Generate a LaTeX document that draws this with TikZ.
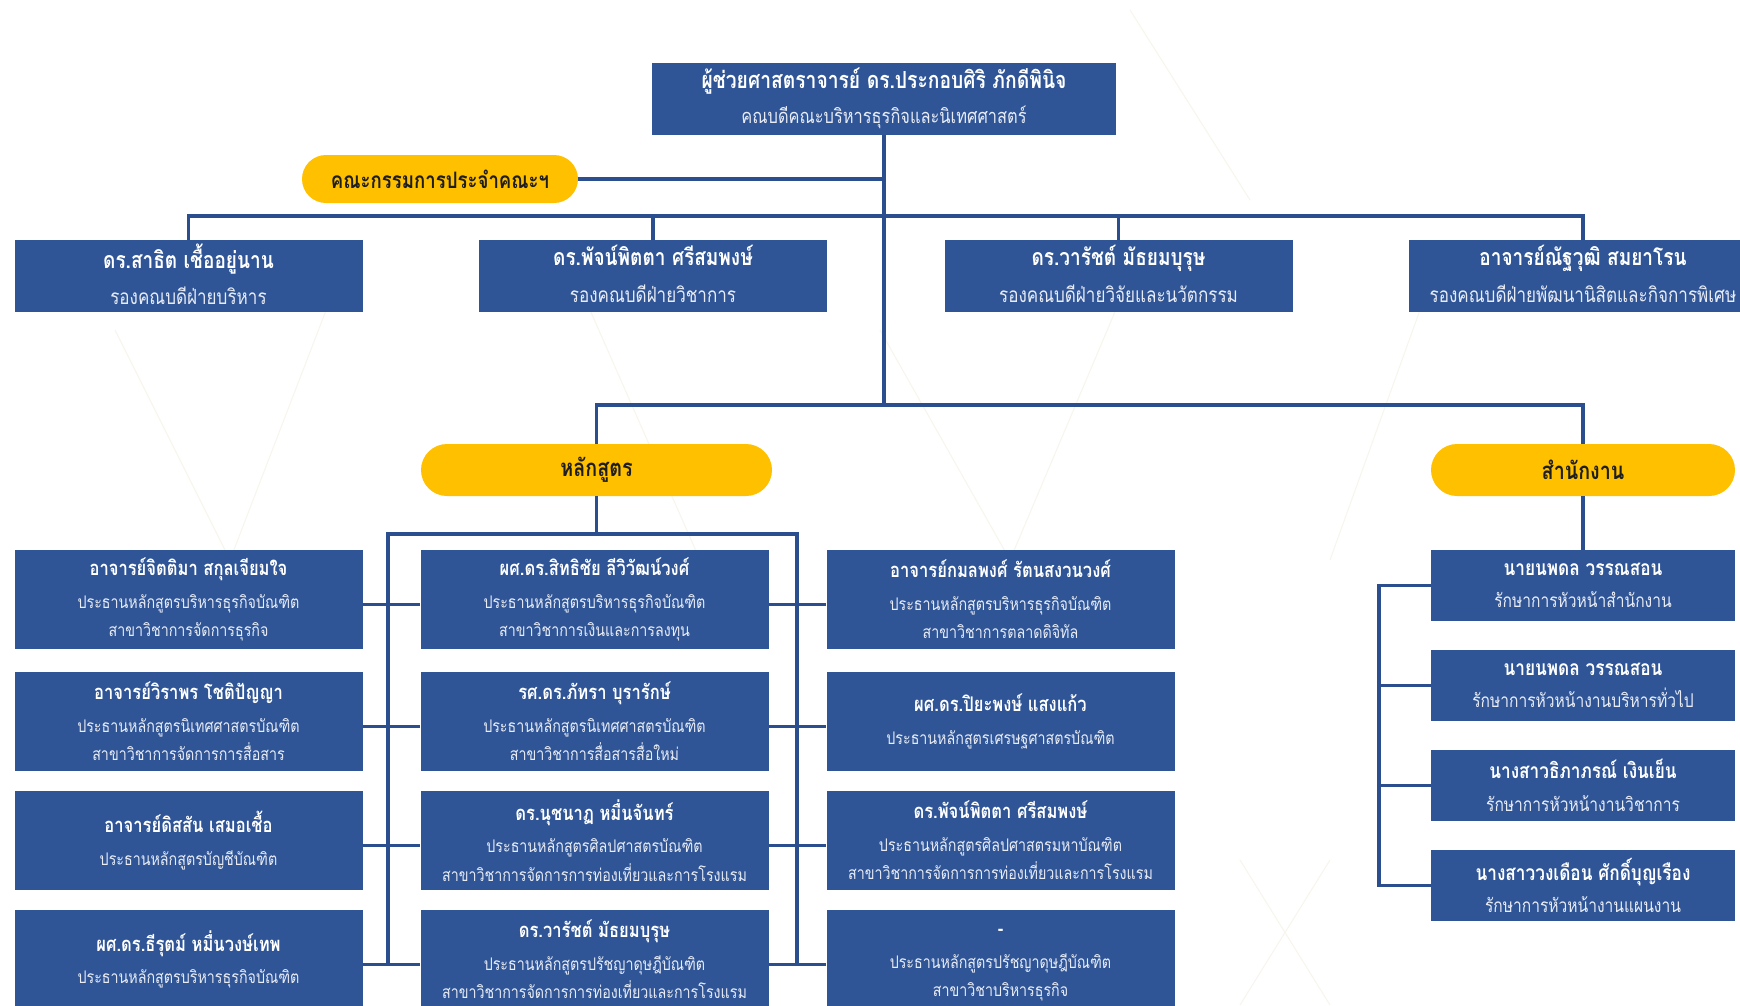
\documentclass[tikz,border=0pt]{standalone}
\usepackage{fontspec}
\newfontfamily\thaifont[Script=Thai,FakeStretch=0.82]{Loma}
\definecolor{boxblue}{HTML}{2F5597}
\definecolor{lineblue}{HTML}{2B4F8E}
\definecolor{pillyellow}{HTML}{FFC000}
\definecolor{pilltext}{HTML}{1E1E1E}
\definecolor{subwhite}{HTML}{E8ECF5}
\definecolor{faint}{HTML}{F8F5EC}
\newcommand{\gnm}[1]{{\bfseries\fontsize{20.2}{28.5}\selectfont #1}}
\newcommand{\vnm}[1]{{\bfseries\fontsize{23.2}{28.5}\selectfont #1}}
\newcommand{\dnm}[1]{{\bfseries\fontsize{23.5}{28.5}\selectfont #1}}
\newcommand{\onm}[1]{{\bfseries\fontsize{21}{28.5}\selectfont #1}}
\newcommand{\subl}[1]{{\color{subwhite}#1}}
\newcommand{\lift}{\rule[-4pt]{0pt}{0pt}}
\tikzset{
  box/.style={fill=boxblue, draw=none, text=white, align=center, inner sep=0pt},
  gridbox/.style={box, minimum width=348pt, minimum height=99pt,
    font=\thaifont\fontsize{17.4}{28.5}\selectfont},
  vicebox/.style={box, minimum width=348pt, minimum height=72pt,
    font=\thaifont\fontsize{20.8}{28.5}\selectfont},
  deanbox/.style={box, minimum width=464pt, minimum height=72pt,
    font=\thaifont\fontsize{20}{28.5}\selectfont},
  officebox/.style={box, minimum width=304pt, minimum height=71pt,
    font=\thaifont\fontsize{19}{28.5}\selectfont},
  pill/.style={fill=pillyellow, draw=none, text=pilltext, inner sep=0pt,
    font=\thaifont\bfseries\fontsize{22.7}{26}\selectfont},
  bigpill/.style={pill, minimum height=52pt, rounded corners=26pt,
    font=\thaifont\bfseries\fontsize{24}{26}\selectfont},
  conn/.style={draw=lineblue, line width=3.5pt},
  deco/.style={draw=faint, line width=1pt},
}
\begin{document}
\begin{tikzpicture}[x=1pt,y=-1pt]
\useasboundingbox (0,0) rectangle (1740,1005);
\clip (0,0) rectangle (1740,1005);
\fill[white] (0,0) rectangle (1740,1005);

% ---- faint background pattern
\draw[deco] (115,330) -- (230,560);
\draw[deco] (230,560) -- (330,300);
\draw[deco] (590,310) -- (700,560);
\draw[deco] (880,330) -- (1010,560);
\draw[deco] (1010,560) -- (1120,300);
\draw[deco] (1420,310) -- (1330,560);
\draw[deco] (1130,10) -- (1250,200);
\draw[deco] (1240,860) -- (1330,1005);
\draw[deco] (1330,860) -- (1240,1005);

% ---- top level
\node[deanbox] (dean) at (884,98.5)
  {\dnm{ผู้ช่วยศาสตราจารย์ ดร.ประกอบศิริ ภักดีพินิจ}\\[7pt]\subl{คณบดีคณะบริหารธุรกิจและนิเทศศาสตร์}};
\node[pill, minimum width=276pt, minimum height=48pt, rounded corners=24pt] (committee) at (440,179) {คณะกรรมการประจำคณะฯ};

% ---- vice deans
\node[vicebox] (v1) at (188.5,276) {\vnm{ดร.สาธิต เชื้ออยู่นาน}\\[8pt]\subl{รองคณบดีฝ่ายบริหาร}\lift};
\node[vicebox] (v2) at (653,276) {\vnm{ดร.พัจน์พิตตา ศรีสมพงษ์}\\[8pt]\subl{รองคณบดีฝ่ายวิชาการ}\lift};
\node[vicebox] (v3) at (1118.5,276) {\vnm{ดร.วารัชต์ มัธยมบุรุษ}\\[8pt]\subl{รองคณบดีฝ่ายวิจัยและนวัตกรรม}\lift};
\node[vicebox] (v4) at (1583,276) {\vnm{อาจารย์ณัฐวุฒิ สมยาโรน}\\[8pt]\subl{รองคณบดีฝ่ายพัฒนานิสิตและกิจการพิเศษ}\lift};

% ---- groups
\node[bigpill, minimum width=351pt] (curr) at (596.5,470) {หลักสูตร};
\node[bigpill, minimum width=304pt] (office) at (1583,470) {สำนักงาน};

% ---- curriculum grid
\node[gridbox] (g11) at (188.5,599.5) {\gnm{อาจารย์จิตติมา สกุลเจียมใจ}\\[4pt]\subl{ประธานหลักสูตรบริหารธุรกิจบัณฑิต}\\\subl{สาขาวิชาการจัดการธุรกิจ}};
\node[gridbox] (g12) at (188.5,721.5) {\gnm{อาจารย์วิราพร โชติปัญญา}\\[4pt]\subl{ประธานหลักสูตรนิเทศศาสตรบัณฑิต}\\\subl{สาขาวิชาการจัดการการสื่อสาร}};
\node[gridbox] (g13) at (188.5,840.5) {\gnm{อาจารย์ดิสสัน เสมอเชื้อ}\\[4pt]\subl{ประธานหลักสูตรบัญชีบัณฑิต}\rule[-4pt]{0pt}{0pt}};
\node[gridbox] (g14) at (188.5,959.5) {\gnm{ผศ.ดร.ธีรุตม์ หมื่นวงษ์เทพ}\\[4pt]\subl{ประธานหลักสูตรบริหารธุรกิจบัณฑิต}\rule[-4pt]{0pt}{0pt}};

\node[gridbox] (g21) at (594.5,599.5) {\gnm{ผศ.ดร.สิทธิชัย ลีวิวัฒน์วงศ์}\\[4pt]\subl{ประธานหลักสูตรบริหารธุรกิจบัณฑิต}\\\subl{สาขาวิชาการเงินและการลงทุน}};
\node[gridbox] (g22) at (594.5,721.5) {\gnm{รศ.ดร.ภัทรา บุรารักษ์}\\[4pt]\subl{ประธานหลักสูตรนิเทศศาสตรบัณฑิต}\\\subl{สาขาวิชาการสื่อสารสื่อใหม่}};
\node[gridbox] (g23) at (594.5,840.5) {\gnm{ดร.นุชนาฏ หมื่นจันทร์}\\[4pt]\subl{ประธานหลักสูตรศิลปศาสตรบัณฑิต}\\\subl{สาขาวิชาการจัดการการท่องเที่ยวและการโรงแรม}};
\node[gridbox] (g24) at (594.5,959.5) {\gnm{ดร.วารัชต์ มัธยมบุรุษ}\\[4pt]\subl{ประธานหลักสูตรปรัชญาดุษฎีบัณฑิต}\\\subl{สาขาวิชาการจัดการการท่องเที่ยวและการโรงแรม}};

\node[gridbox] (g31) at (1000.5,599.5) {\gnm{อาจารย์กมลพงศ์ รัตนสงวนวงศ์}\\[4pt]\subl{ประธานหลักสูตรบริหารธุรกิจบัณฑิต}\\\subl{สาขาวิชาการตลาดดิจิทัล}};
\node[gridbox] (g32) at (1000.5,721.5) {\gnm{ผศ.ดร.ปิยะพงษ์ แสงแก้ว}\\[4pt]\subl{ประธานหลักสูตรเศรษฐศาสตรบัณฑิต}\rule[-4pt]{0pt}{0pt}};
\node[gridbox] (g33) at (1000.5,840.5) {\gnm{ดร.พัจน์พิตตา ศรีสมพงษ์}\\[4pt]\subl{ประธานหลักสูตรศิลปศาสตรมหาบัณฑิต}\\\subl{สาขาวิชาการจัดการการท่องเที่ยวและการโรงแรม}};
\node[gridbox] (g34) at (1000.5,959.5) {\gnm{\vphantom{ดร.วารัชต์ มัธยมบุรุษ}-}\\[4pt]\subl{ประธานหลักสูตรปรัชญาดุษฎีบัณฑิต}\\\subl{สาขาวิชาบริหารธุรกิจ}};

% ---- office column
\node[officebox] (o1) at (1583,585.5) {\onm{นายนพดล วรรณสอน}\\[4pt]\subl{รักษาการหัวหน้าสำนักงาน}};
\node[officebox] (o2) at (1583,685.5) {\onm{นายนพดล วรรณสอน}\\[4pt]\subl{รักษาการหัวหน้างานบริหารทั่วไป}};
\node[officebox] (o3) at (1583,785.5) {\onm{นางสาวธิภาภรณ์ เงินเย็น}\\[4pt]\subl{รักษาการหัวหน้างานวิชาการ}};
\node[officebox] (o4) at (1583,885.5) {\onm{นางสาววงเดือน ศักดิ์บุญเรือง}\\[4pt]\subl{รักษาการหัวหน้างานแผนงาน}};

% ---- junction coordinates
\coordinate (cj) at (884,179);
\coordinate (bar1) at (884,216);
\coordinate (bar2) at (884,405);
\coordinate (cbar) at (596.5,534);
\coordinate (lvtop) at (388,534);
\coordinate (lvbot) at (388,964.5);
\coordinate (rvtop) at (797,534);
\coordinate (rvbot) at (797,964.5);

% ---- connectors
\draw[conn] (dean.south) -- (bar2);
\draw[conn] (committee.east) -- (cj);
\draw[conn] (v1.north) |- (bar1) -| (v4.north);
\draw[conn] (v2.north) |- (bar1);
\draw[conn] (v3.north) |- (bar1);
\draw[conn] (curr.north) |- (bar2) -| (office.north);
\draw[conn] (curr.south) -- (cbar);
\draw[conn] (lvbot) -- (lvtop) -- (rvtop) -- (rvbot);
\foreach \r in {1,2,3,4}{
  \draw[conn] ([yshift=-5pt]g1\r.east) -- ([yshift=-5pt]g2\r.west);
  \draw[conn] ([yshift=-5pt]g2\r.east) -- ([yshift=-5pt]g3\r.west);
}
\draw[conn] (office.south) -- (o1.north);
\draw[conn] (o1.west) -- ++(-52,0) |- (o4.west);
\draw[conn] (o2.west) -- ++(-52,0);
\draw[conn] (o3.west) -- ++(-52,0);
\end{tikzpicture}
\end{document}
